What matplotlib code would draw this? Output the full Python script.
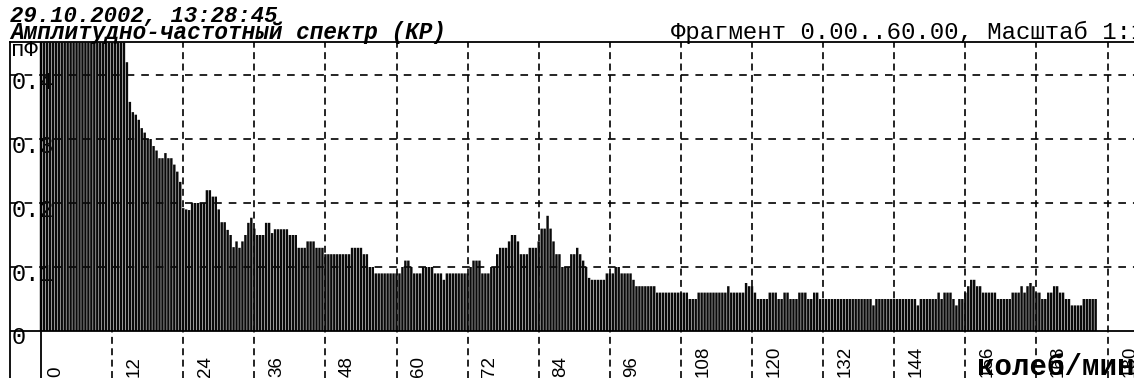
import numpy as np
import matplotlib
matplotlib.use("Agg")
import matplotlib.pyplot as plt

plt.rcParams['lines.scale_dashes'] = False

# Amplitude spectrum, 0.5 колеб/мин per bin, split into 30 колеб/мин blocks
amp_000_030 = [9.5, 6.1, 3.8, 2.6, 1.9, 1.5, 1.3, 1.1, 0.98, 0.9, 0.84, 0.8,
               0.77, 0.74, 0.72, 0.7, 0.68, 0.66, 0.64, 0.62, 0.6, 0.58, 0.56, 0.55,
               0.53, 0.52, 0.5, 0.49, 0.47, 0.42, 0.358, 0.342, 0.338, 0.33, 0.317, 0.31,
               0.30, 0.30, 0.289, 0.282, 0.27, 0.27, 0.278, 0.27, 0.27, 0.26, 0.249, 0.233,
               0.192, 0.19, 0.189, 0.2, 0.2, 0.2, 0.2, 0.2, 0.22, 0.22, 0.21, 0.21]
amp_030_060 = [0.19, 0.17, 0.17, 0.158, 0.15, 0.131, 0.14, 0.13, 0.14, 0.15, 0.169, 0.177,
               0.16, 0.15, 0.15, 0.15, 0.169, 0.169, 0.153, 0.159, 0.159, 0.159, 0.159, 0.159,
               0.15, 0.15, 0.15, 0.13, 0.13, 0.13, 0.14, 0.14, 0.14, 0.13, 0.13, 0.13,
               0.12, 0.12, 0.12, 0.12, 0.12, 0.12, 0.12, 0.12, 0.12, 0.13, 0.13, 0.13,
               0.13, 0.12, 0.12, 0.10, 0.10, 0.09, 0.09, 0.09, 0.09, 0.09, 0.09, 0.09]
amp_060_090 = [0.09, 0.09, 0.10, 0.11, 0.11, 0.10, 0.09, 0.09, 0.09, 0.10, 0.10, 0.10,
               0.10, 0.09, 0.09, 0.09, 0.08, 0.09, 0.09, 0.09, 0.09, 0.09, 0.09, 0.09,
               0.09, 0.10, 0.11, 0.11, 0.11, 0.09, 0.09, 0.09, 0.10, 0.10, 0.12, 0.13,
               0.13, 0.13, 0.14, 0.15, 0.15, 0.14, 0.12, 0.12, 0.12, 0.13, 0.13, 0.13,
               0.14, 0.16, 0.16, 0.18, 0.16, 0.14, 0.12, 0.12, 0.10, 0.10, 0.10, 0.12]
amp_090_120 = [0.12, 0.13, 0.12, 0.11, 0.10, 0.083, 0.08, 0.08, 0.08, 0.08, 0.08, 0.09,
               0.09, 0.09, 0.10, 0.10, 0.09, 0.09, 0.09, 0.09, 0.08, 0.07, 0.07, 0.07,
               0.07, 0.07, 0.07, 0.07, 0.06, 0.06, 0.06, 0.06, 0.06, 0.06, 0.06, 0.06,
               0.06, 0.06, 0.06, 0.05, 0.05, 0.05, 0.06, 0.06, 0.06, 0.06, 0.06, 0.06,
               0.06, 0.06, 0.06, 0.06, 0.07, 0.06, 0.06, 0.06, 0.06, 0.06, 0.075, 0.07]
amp_120_150 = [0.07, 0.06, 0.05, 0.05, 0.05, 0.05, 0.06, 0.06, 0.06, 0.05, 0.05, 0.06,
               0.06, 0.05, 0.05, 0.05, 0.06, 0.06, 0.06, 0.05, 0.05, 0.06, 0.06, 0.05,
               0.05, 0.05, 0.05, 0.05, 0.05, 0.05, 0.05, 0.05, 0.05, 0.05, 0.05, 0.05,
               0.05, 0.05, 0.05, 0.05, 0.05, 0.04, 0.05, 0.05, 0.05, 0.05, 0.05, 0.05,
               0.05, 0.05, 0.05, 0.05, 0.05, 0.05, 0.05, 0.05, 0.04, 0.05, 0.05, 0.05]
amp_150_180 = [0.05, 0.05, 0.05, 0.06, 0.05, 0.06, 0.06, 0.06, 0.05, 0.04, 0.05, 0.05,
               0.06, 0.07, 0.08, 0.08, 0.07, 0.07, 0.06, 0.06, 0.06, 0.06, 0.06, 0.05,
               0.05, 0.05, 0.05, 0.05, 0.06, 0.06, 0.06, 0.07, 0.06, 0.07, 0.075, 0.07,
               0.06, 0.06, 0.05, 0.05, 0.06, 0.06, 0.07, 0.07, 0.06, 0.06, 0.05, 0.05,
               0.04, 0.04, 0.04, 0.04, 0.05, 0.05, 0.05, 0.05, 0.05]

freq_step = 0.5
x_ticks = list(range(0, 181, 12))
y_grid = [0.1, 0.2, 0.3, 0.4]

title_time = "29.10.2002, 13:28:45"
title_kind = "Амплитудно-частотный спектр (КР)"
title_frag = "Фрагмент 0.00..60.00, Масштаб 1:1"
y_unit = "пФ"
x_unit = "колеб/мин"

amp = np.concatenate([amp_000_030, amp_030_060, amp_060_090,
                      amp_090_120, amp_120_150, amp_150_180])
freq = np.arange(len(amp)) * freq_step

W, H, DPI = 1134, 378, 100
fig = plt.figure(figsize=(W / DPI, H / DPI), dpi=DPI)
fig.patch.set_facecolor("white")


def fx(px):
    return px / W


def fy(py):
    return 1 - py / H


# frame: left border at 10 px, header rule at 42 px, bottom at image edge
ax = fig.add_axes([fx(10), 0, 1 - fx(10), fy(42)])
unit_px = 71.1 / 12.0          # pixels per колеб/мин
val_px = 0.1 / 64.0            # amplitude per pixel
x0_px, y0_px = 41, 331         # origin of the spectrum
ax.set_xlim(-(x0_px - 10) / unit_px, (W - x0_px) / unit_px)
ax.set_ylim(-(H - y0_px) * val_px, (y0_px - 42) * val_px)
ax.set_xticks([])
ax.set_yticks([])
for s in ("right", "bottom"):
    ax.spines[s].set_visible(False)
for s in ("top", "left"):
    ax.spines[s].set_linewidth(1.3)
    ax.spines[s].set_color("black")


def xv(px):
    return (px - x0_px) / unit_px


def yv(py):
    return (y0_px - py) * val_px


mono = "Liberation Mono"

# dashed grid
for g in y_grid:
    ax.axhline(g, color="black", lw=1.2, dashes=(5.5, 5.0), zorder=1)
for t in x_ticks[1:]:
    ax.axvline(t, color="black", lw=1.2, dashes=(5.0, 3.2), zorder=1)
ax.axvline(0, color="black", lw=1.3, zorder=4)
ax.axhline(0, color="black", lw=1.3, zorder=4)

# amplitude labels sit under the bars
for g in y_grid:
    ax.text(xv(12), g - 0.022, f"{g:.1f}", family=mono, fontsize=17,
            va="baseline", ha="left", zorder=0.5, color="black")
ax.text(xv(12), yv(344), "0", family=mono, fontsize=17, va="baseline",
        ha="left", zorder=0.5)
ax.text(xv(11), yv(56), y_unit, family=mono, fontsize=16, va="baseline",
        ha="left", zorder=0.5)

# spectrum bars (unsnapped so every bin keeps the same width)
bars = ax.bar(freq, amp, width=0.41, color="#0a0a0a", linewidth=0, zorder=3,
              align="center")
for b in bars:
    b.set_snap(False)

# frequency labels
for t in x_ticks:
    off = 1.0 if t == 0 else 2.3
    ax.text(t + off, yv(377), str(t), rotation=90, ha="left", va="bottom",
            family="Liberation Sans", fontsize=13.5, color="black", zorder=5,
            clip_on=False)

# headers
fig.text(fx(10), fy(22), title_time, family=mono, weight="bold",
         style="italic", fontsize=16, va="baseline", ha="left")
fig.text(fx(10), fy(39.5), title_kind, family=mono, weight="bold",
         style="italic", fontsize=16.3, va="baseline", ha="left")
fig.text(fx(671), fy(39), title_frag, family=mono, fontsize=17.3,
         va="baseline", ha="left")
fig.text(fx(977), fy(375), x_unit, family=mono, weight="bold", fontsize=21,
         va="baseline", ha="left", zorder=6)

fig.savefig("out.png", dpi=DPI, facecolor="white")
